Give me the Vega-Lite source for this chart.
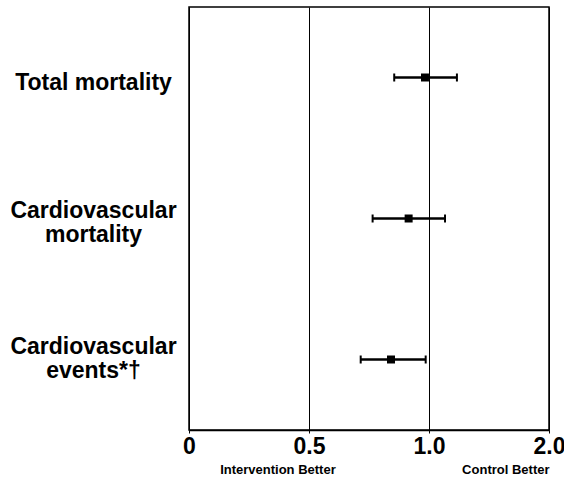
{
  "$schema": "https://vega.github.io/schema/vega-lite/v6.json",
  "width": 360,
  "height": 423,
  "padding": {"left": 9, "top": 7, "right": 0, "bottom": 0},
  "background": "white",
  "config": {
    "view": {"stroke": "black", "strokeWidth": 1.5},
    "font": "Liberation Sans"
  },
  "data": {
    "values": [
      {"outcome": "Total mortality", "rr": 0.977, "lo": 0.818, "hi": 1.175},
      {"outcome": "Cardiovascular mortality", "rr": 0.889, "lo": 0.722, "hi": 1.097},
      {"outcome": "Cardiovascular events*†", "rr": 0.803, "lo": 0.674, "hi": 0.981}
    ]
  },
  "encoding": {
    "y": {
      "field": "outcome",
      "type": "nominal",
      "sort": null,
      "scale": {"type": "point", "padding": 0.5},
      "axis": {
        "title": null,
        "domain": false,
        "ticks": false,
        "labelPadding": 96,
        "labelAlign": "center",
        "labelBaseline": "middle",
        "labelFont": "Liberation Sans",
        "labelFontWeight": "bold",
        "labelFontSize": 23,
        "labelColor": "black",
        "labelLineHeight": 24,
        "labelOffset": {
          "condition": [
            {"test": "datum.value == 'Total mortality'", "value": 5},
            {"test": "datum.value == 'Cardiovascular mortality'", "value": -8}
          ],
          "value": -13
        },
        "labelExpr": "datum.label == 'Total mortality' ? datum.label : split(datum.label, ' ')"
      }
    }
  },
  "layer": [
    {
      "mark": {"type": "rule", "color": "black", "strokeWidth": 2.5},
      "encoding": {
        "x": {
          "field": "lo",
          "type": "quantitative",
          "scale": {"type": "log", "base": 2, "domain": [0.25, 2], "nice": false},
          "axis": {
            "values": [0.25, 0.5, 1, 2],
            "labelExpr": "datum.value < 0.3 ? '0' : format(datum.value, '.1f')",
            "grid": true,
            "gridColor": "black",
            "gridWidth": 1,
            "gridOpacity": 1,
            "domainColor": "black",
            "domainWidth": 1.5,
            "tickColor": "black",
            "tickSize": 3,
            "labelPadding": 2,
            "labelFont": "Liberation Sans",
            "labelFontWeight": "bold",
            "labelFontSize": 23,
            "labelColor": "black",
            "labelFlush": false,
            "title": "Intervention Better\u00a0\u00a0\u00a0\u00a0\u00a0\u00a0\u00a0\u00a0\u00a0\u00a0\u00a0\u00a0\u00a0\u00a0\u00a0\u00a0\u00a0\u00a0\u00a0\u00a0\u00a0\u00a0\u00a0\u00a0\u00a0\u00a0\u00a0\u00a0\u00a0\u00a0\u00a0\u00a0\u00a0\u00a0\u00a0Control Better",
            "titleAnchor": "end",
            "titleFont": "Liberation Sans",
            "titleFontWeight": "bold",
            "titleFontSize": 13,
            "titleColor": "black",
            "titlePadding": 5
          }
        },
        "x2": {"field": "hi"}
      }
    },
    {
      "mark": {"type": "tick", "color": "black", "thickness": 2, "size": 8, "opacity": 1},
      "encoding": {"x": {"field": "lo", "type": "quantitative"}}
    },
    {
      "mark": {"type": "tick", "color": "black", "thickness": 2, "size": 8, "opacity": 1},
      "encoding": {"x": {"field": "hi", "type": "quantitative"}}
    },
    {
      "mark": {"type": "square", "color": "black", "filled": true, "size": 64, "opacity": 1},
      "encoding": {"x": {"field": "rr", "type": "quantitative"}}
    }
  ]
}
